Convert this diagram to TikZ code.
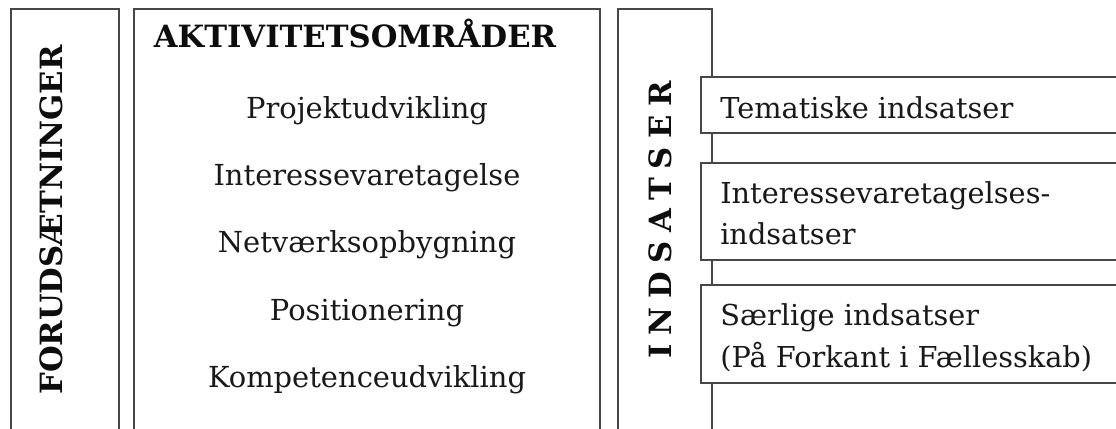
\documentclass[tikz,border=0pt]{standalone}
\usepackage{fontspec}
\setmainfont{DejaVu Serif}
\begin{document}
\begin{tikzpicture}[x=0.75pt,y=-0.75pt,
  frame/.style={draw=black!72, line width=1.1pt},
  item/.style={font=\fontsize{21.7}{30}\selectfont, text=black!90, inner sep=0pt, anchor=base},
  sideitem/.style={font=\fontsize{21.6}{30}\selectfont, text=black!90, inner sep=0pt, anchor=base west},
  heading/.style={font=\fontsize{23}{28}\selectfont\bfseries, text=black!95, inner sep=0pt, anchor=base}]
\useasboundingbox (0,0) rectangle (1116,428);
\clip (0,0) rectangle (1116,428);
% columns (open at the bottom)
\draw[frame] (11,440) -- (11,9) -- (119,9) -- (119,440);
\draw[frame] (134,440) -- (134,9) -- (600,9) -- (600,440);
\draw[frame] (618,440) -- (618,9) -- (712,9) -- (712,440);
% side boxes (open at the right)
\draw[frame, fill=white] (1130,77) -- (701,77) -- (701,133) -- (1130,133);
\draw[frame, fill=white] (1130,163) -- (701,163) -- (701,260) -- (1130,260);
\draw[frame, fill=white] (1130,285) -- (701,285) -- (701,383) -- (1130,383);
% texts
\node[heading, rotate=90] (forud) at (62,220) {FORUDSÆTNINGER};
\node[heading] (akt) at (355,48) {AKTIVITETSOMRÅDER};
\node[item] (p1) at (367,118) {Projektudvikling};
\node[item] (p2) at (367,185) {Interessevaretagelse};
\node[item] (p3) at (367,252) {Netværksopbygning};
\node[item] (p4) at (367,320) {Positionering};
\node[item] (p5) at (367,387) {Kompetenceudvikling};
\node[heading, rotate=90] (ind) at (671,219.5) {\spaceskip=6.4pt I N D S A T S E R};
\node[sideitem] (s1) at (720,118) {Tematiske indsatser};
\node[sideitem] (s2a) at (720,203) {Interessevaretagelses-};
\node[sideitem] (s2b) at (720,244) {indsatser};
\node[sideitem] (s3a) at (720,325) {Særlige indsatser};
\node[sideitem] (s3b) at (720,367) {(På Forkant i Fællesskab)};
\end{tikzpicture}
\end{document}
